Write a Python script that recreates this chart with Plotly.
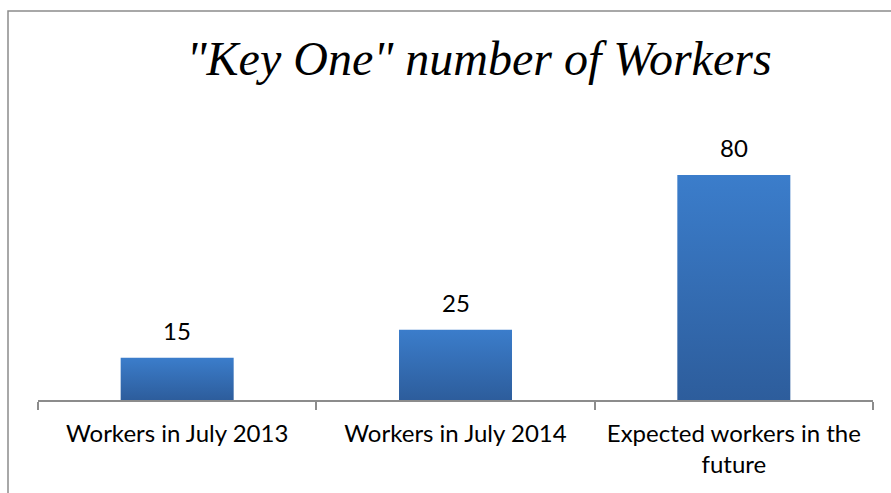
import plotly.graph_objects as go

# Chart data
categories = ["Workers in July 2013", "Workers in July 2014", "Expected workers in the<br>future"]
workers = [15, 25, 80]

TITLE = '"Key One" number of Workers'
BAR_HALF_WIDTH = 0.203
GRAD_TOP = "#3b7dcb"
GRAD_BOTTOM = "#2d5d9c"
LABEL_FONT = "Lato, Carlito, Calibri, sans-serif"

fig = go.Figure()

# Each bar is a filled polygon so it can carry a vertical gradient
for i, v in enumerate(workers):
    x0, x1 = i - BAR_HALF_WIDTH, i + BAR_HALF_WIDTH
    fig.add_trace(go.Scatter(
        x=[x0, x1, x1, x0, x0],
        y=[0, 0, v, v, 0],
        mode="lines",
        line=dict(width=0),
        fill="toself",
        fillgradient=dict(
            type="vertical",
            colorscale=[[0, GRAD_BOTTOM], [1, GRAD_TOP]],
        ),
        hoverinfo="skip",
        showlegend=False,
    ))

# Value labels above the bars
annotations = [
    dict(
        x=i, y=v, xref="x", yref="y",
        text=str(v),
        showarrow=False,
        xanchor="center", yanchor="bottom",
        yshift=11,
        font=dict(family=LABEL_FONT, size=24, color="#000000"),
    )
    for i, v in enumerate(workers)
]

W, H = 891, 493
ML, MR, MT, MB = 38, 18, 147, 93
pw, ph = W - ML - MR, H - MT - MB

fig.update_layout(
    width=W,
    height=H,
    margin=dict(l=ML, r=MR, t=MT, b=MB, pad=0),
    paper_bgcolor="white",
    plot_bgcolor="white",
    title=dict(
        text=TITLE,
        x=479 / W,
        xanchor="center",
        y=1 - 58 / H,
        yanchor="middle",
        font=dict(family="Liberation Serif, Times New Roman, serif", size=48,
                  color="#000000", style="italic"),
    ),
    xaxis=dict(
        range=[-0.5, len(workers) - 0.5],
        tickvals=list(range(len(categories))),
        ticktext=categories,
        ticks="",
        ticklabelstandoff=11,
        showgrid=False,
        zeroline=False,
        showline=True,
        linecolor="#8c8c8c",
        linewidth=1.5,
        tickfont=dict(family=LABEL_FONT, size=24, color="#000000"),
        minor=dict(
            tickvals=[i - 0.5 for i in range(len(categories) + 1)],
            ticks="outside",
            ticklen=8,
            tickwidth=1.5,
            tickcolor="#8c8c8c",
            showgrid=False,
        ),
        fixedrange=True,
    ),
    yaxis=dict(
        range=[0, 90],
        visible=False,
        showgrid=False,
        zeroline=False,
        fixedrange=True,
    ),
    annotations=annotations,
    shapes=[
        # chart-area border
        dict(
            type="rect",
            xref="paper", yref="paper",
            x0=(8 - ML) / pw, x1=(W + 20 - ML) / pw,
            y0=-(H + 20 - MT - ph) / ph, y1=1 + (MT - 11) / ph,
            line=dict(color="#8c8c8c", width=1.5),
            fillcolor="rgba(0,0,0,0)",
            layer="below",
        )
    ],
)

fig.write_html("out.html")
